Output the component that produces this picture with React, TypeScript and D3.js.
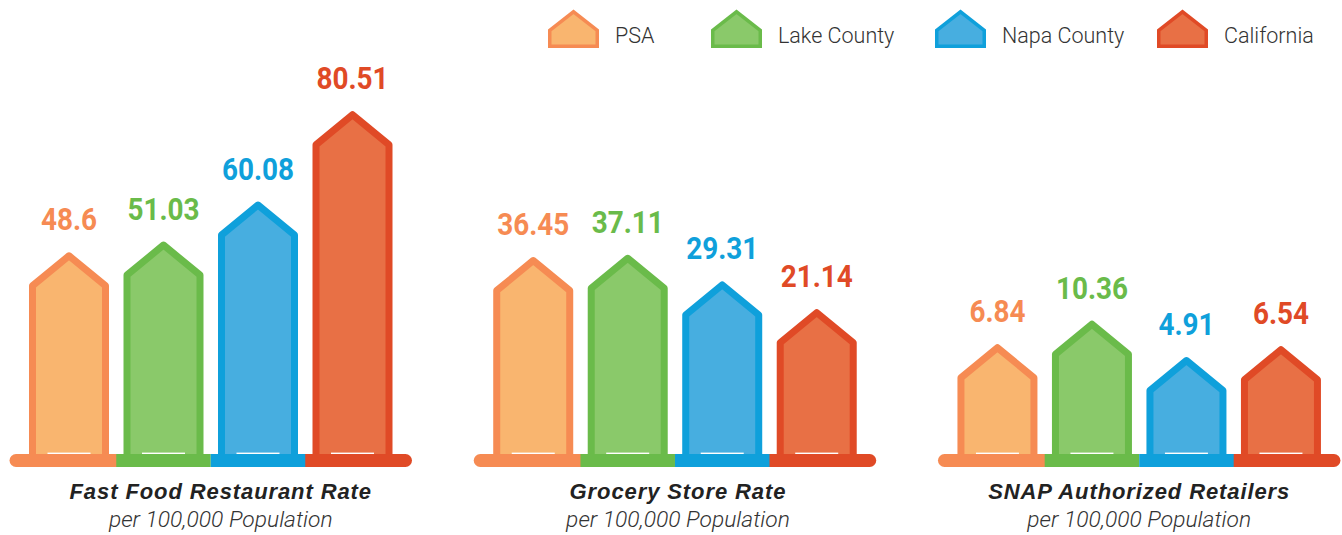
import React from "react";
import * as d3 from "d3";

// ---- data ----
const groups = ["Fast Food Restaurant Rate", "Grocery Store Rate", "SNAP Authorized Retailers"];
const subtitle = "per 100,000 Population";
const series = ["PSA", "Lake County", "Napa County", "California"];
const psa = [48.6, 36.45, 6.84];
const lakeCounty = [51.03, 37.11, 10.36];
const napaCounty = [60.08, 29.31, 4.91];
const california = [80.51, 21.14, 6.54];
const seriesValues = [psa, lakeCounty, napaCounty, california];

// ---- styles ----
const strokeColors = ["#F68B53", "#6ABB4A", "#0FA0DB", "#E04A26"];
const fillColors = ["#F9B56F", "#8AC96A", "#47AEE0", "#E87045"];
const textColor = "#333333";

const W = 1342;
const H = 535;
const baseTop = 454;
const halfW = 36.5;
const sw = 7;
const roof = 30;

// per-group height scales (value -> height of apex above baseline)
const heightScales = [
  d3.scaleLinear().domain([0, 100]).range([-13.2, 429.0]),
  d3.scaleLinear().domain([0, 40]).range([73, 209]),
  d3.scaleLinear().domain([0, 12]).range([64.2, 144.2]),
];

const x0 = d3.scaleBand<string>().domain(groups).range([10, 1340]).paddingInner(0.135);
const x1 = d3.scalePoint<string>().domain(series).range([59, 342.5]);
const titleShift = [10, 3, 0];
const legendX = [548, 711, 935, 1157];

function housePath(cx: number, apex: number, bottom: number, hw: number, r: number, closed: boolean) {
  const p = d3.path();
  p.moveTo(cx - hw, bottom);
  p.lineTo(cx - hw, apex + r);
  p.lineTo(cx, apex);
  p.lineTo(cx + hw, apex + r);
  p.lineTo(cx + hw, bottom);
  if (closed) p.closePath();
  return p.toString();
}

export default function App() {
  return (
    <svg width={W} height={H} style={{ position: "absolute", left: 0, top: 0, background: "#fff" }}>
      {/* legend */}
      {series.map((s, i) => {
        const lx = legendX[i];
        return (
          <g key={"lg" + s}>
            <path
              d={housePath(lx + 25.5, 11.75, 46.25, 23.75, 18.5, true)}
              fill={fillColors[i]}
              stroke={strokeColors[i]}
              strokeWidth={3.5}
              strokeLinejoin="miter"
            />
            <text
              x={lx + 67}
              y={43}
              fontFamily="Roboto, 'Liberation Sans', sans-serif"
              fontWeight={300}
              fontSize={21.5}
              fill={textColor}
            >
              {s}
            </text>
          </g>
        );
      })}

      {groups.map((g, gi) => {
        const gx = x0(g) as number;
        const centers = series.map((s) => gx + (x1(s) as number));
        const hs = heightScales[gi];
        const start = centers[0] - 53;
        const end = centers[3] + 53;
        const bounds = [start, (centers[0] + centers[1]) / 2, (centers[1] + centers[2]) / 2, (centers[2] + centers[3]) / 2, end];
        const lineY = 460.5;
        const order = [0, 3, 1, 2];
        const gCenter = (centers[0] + centers[3]) / 2 + titleShift[gi];
        return (
          <g key={g}>
            {series.map((s, si) => {
              const v = seriesValues[si][gi];
              const h = hs(v);
              const cx = centers[si];
              const apexC = baseTop - h + sw / 2;
              return (
                <g key={s}>
                  <path
                    d={housePath(cx, apexC, baseTop + 3, halfW, roof, false)}
                    fill={fillColors[si]}
                    stroke={strokeColors[si]}
                    strokeWidth={sw}
                    strokeLinejoin="round"
                  />
                  <rect x={cx - 21.5} y={452.6} width={43} height={1.6} fill="#fff" />
                  <text
                    transform={`translate(${cx},${baseTop - h - 22}) scale(0.9,1)`}
                    textAnchor="middle"
                    fontFamily="Roboto, 'Liberation Sans', sans-serif"
                    fontWeight={700}
                    fontSize={31}
                    fill={strokeColors[si]}
                  >
                    {String(v)}
                  </text>
                </g>
              );
            })}
            {order.map((si) => (
              <line
                key={"bl" + si}
                x1={bounds[si]}
                x2={bounds[si + 1]}
                y1={lineY}
                y2={lineY}
                stroke={strokeColors[si]}
                strokeWidth={13}
                strokeLinecap={si === 0 || si === 3 ? "round" : "butt"}
              />
            ))}
            <text
              x={gCenter}
              y={499}
              textAnchor="middle"
              fontFamily="'Liberation Sans', Arial, sans-serif"
              fontWeight={700}
              fontStyle="italic"
              fontSize={22}
              letterSpacing={0.9}
              fill="#222"
            >
              {g}
            </text>
            <text
              x={gCenter}
              y={526.5}
              textAnchor="middle"
              fontFamily="Roboto, 'Liberation Sans', sans-serif"
              fontWeight={300}
              fontStyle="italic"
              fontSize={22.8}
              fill={textColor}
            >
              {subtitle}
            </text>
          </g>
        );
      })}
    </svg>
  );
}
